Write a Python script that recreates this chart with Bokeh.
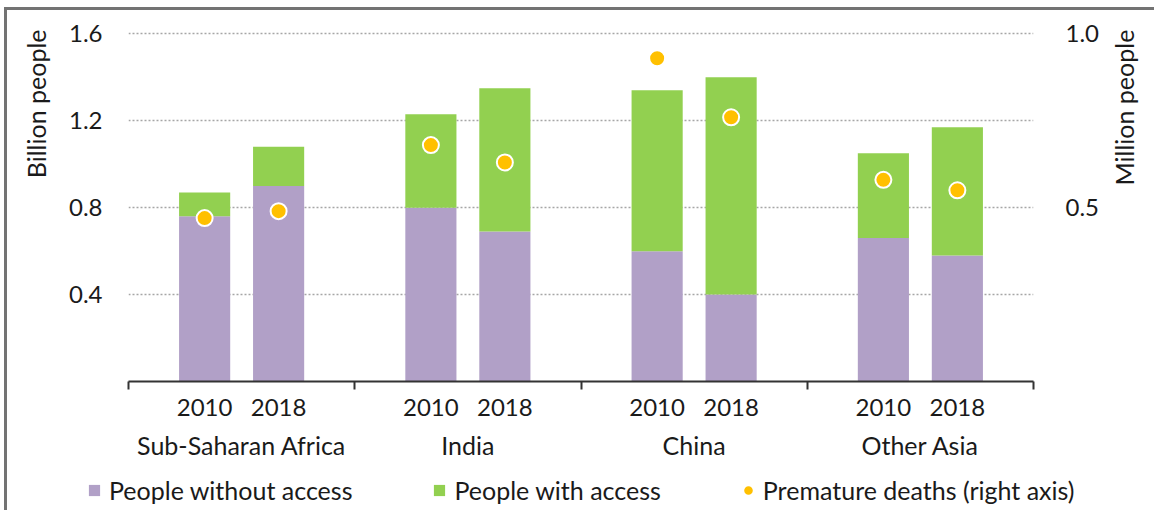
import math
from bokeh.plotting import figure
from bokeh.layouts import row, column
from bokeh.models import (Range1d, LinearAxis, FixedTicker, Legend, LegendItem, Title, Label,
                          ColumnDataSource, Grid, PrintfTickFormatter, InlineStyleSheet)
from bokeh.embed import file_html
from bokeh.resources import INLINE

# ---------------- data ----------------
regions = ["Sub-Saharan Africa", "India", "China", "Other Asia"]
years = ["2010", "2018"]
without_access_2010 = [0.76, 0.80, 0.60, 0.66]
without_access_2018 = [0.90, 0.69, 0.40, 0.58]
with_access_2010 = [0.11, 0.43, 0.74, 0.39]
with_access_2018 = [0.18, 0.66, 1.00, 0.59]
deaths_2010 = [0.47, 0.68, 0.93, 0.58]
deaths_2018 = [0.49, 0.63, 0.76, 0.55]
left_ticks = [0.4, 0.8, 1.2, 1.6]
right_ticks = [0.5, 1.0]
series_labels = ["People without access", "People with access", "Premature deaths (right axis)"]
left_label = "Billion people"
right_label = "Million people"

# ---------------- styles ----------------
FONT = "Lato"
TXT = "#1a1a1a"
PURPLE = "#B1A0C7"
GREEN = "#92D050"
ORANGE = "#FFC000"
FRAME = "#737373"
YEAR_OFFSET = 0.1635
BAR_W = 0.226
Y_END = 1.62
Y2_END = Y_END / 1.6
MAIN_W, MAIN_H = 1110, 468
STRIP_W = 1154 - MAIN_W
LEG_H = 510 - MAIN_H


def frame_css(left=False, top=False, left_px=4, top_px=7):
    parts = []
    if left:
        parts.append(f"border-left: 3px solid {FRAME};")
    if top:
        parts.append(f"border-top: 3px solid {FRAME};")
    css = (":host { position: relative; } :host::after { content: ''; position: absolute; "
           f"left: {left_px if left else 0}px; top: {top_px if top else 0}px; right: 0; bottom: 0; "
           + " ".join(parts) + " pointer-events: none; }")
    return [InlineStyleSheet(css=css)]


xs, wo, wa_top, dd = [], [], [], []
for i in range(len(regions)):
    for j, (w0, w1, d) in enumerate([(without_access_2010[i], with_access_2010[i], deaths_2010[i]),
                                     (without_access_2018[i], with_access_2018[i], deaths_2018[i])]):
        xs.append(i + 0.5 + (-YEAR_OFFSET if j == 0 else YEAR_OFFSET))
        wo.append(w0)
        wa_top.append(w0 + w1)
        dd.append(d)

src = ColumnDataSource(dict(x=xs, without=wo, total=wa_top, deaths=dd))

# ---------------- main chart ----------------
p = figure(width=MAIN_W, height=MAIN_H, x_range=Range1d(0, len(regions)), y_range=Range1d(0, Y_END),
           output_backend="svg", toolbar_location=None,
           x_axis_location=None, y_axis_location=None,
           min_border_left=128, min_border_right=MAIN_W - 1033, min_border_top=29,
           min_border_bottom=MAIN_H - 381)
p.grid.visible = False
p.outline_line_color = None
p.extra_y_ranges = {"deaths": Range1d(0, Y2_END)}
p.border_fill_color = "white"
p.frame_align = False

grid = Grid(dimension=1, ticker=FixedTicker(ticks=left_ticks), grid_line_color="#a6a6a6",
            grid_line_dash="2 2", grid_line_width=1.5)
p.add_layout(grid)

bar_style = dict(width=BAR_W, source=src, line_color=None)
r_wo = p.vbar(x="x", top="without", bottom=0, fill_color=PURPLE, **bar_style)
r_wa = p.vbar(x="x", top="total", bottom="without", fill_color=GREEN, **bar_style)
dot_style = dict(size=16, fill_color=ORANGE, line_color="white", line_width=2)
r_d = p.scatter(x="x", y="deaths", source=src, y_range_name="deaths", **dot_style)


def style_text_axis(ax, size="24px"):
    ax.major_label_text_font = FONT
    ax.major_label_text_font_size = size
    ax.major_label_text_color = TXT


left = LinearAxis(ticker=FixedTicker(ticks=left_ticks), formatter=PrintfTickFormatter(format="%.1f"),
                  axis_line_color=None, major_tick_line_color=None,
                  minor_tick_line_color=None, major_tick_out=0, major_label_standoff=26)
style_text_axis(left)
p.add_layout(left, "left")
p.add_layout(Title(text=left_label, align="right", text_font=FONT, text_font_size="25px",
                   text_font_style="normal", text_color=TXT, standoff=29), "left")

right = LinearAxis(y_range_name="deaths", ticker=FixedTicker(ticks=right_ticks),
                   formatter=PrintfTickFormatter(format="%.1f"),
                   axis_line_color=None, major_tick_line_color=None,
                   minor_tick_line_color=None, major_tick_out=0, major_label_standoff=32)
style_text_axis(right)
p.add_layout(right, "right")

year_overrides = {x: years[k % 2] for k, x in enumerate(xs)}
xaxis1 = LinearAxis(ticker=FixedTicker(ticks=xs, minor_ticks=list(range(len(regions) + 1))),
                    major_label_overrides=year_overrides,
                    axis_line_color="#333333", axis_line_width=2,
                    major_tick_line_color=None, major_tick_out=0, major_tick_in=0,
                    minor_tick_line_color="#333333", minor_tick_line_width=2,
                    minor_tick_out=8, minor_tick_in=0, major_label_standoff=9)
style_text_axis(xaxis1)
p.add_layout(xaxis1, "below")

group_ticks = [i + 0.5 for i in range(len(regions))]
xaxis2 = LinearAxis(ticker=FixedTicker(ticks=group_ticks),
                    major_label_overrides={g: r for g, r in zip(group_ticks, regions)},
                    axis_line_color=None, major_tick_line_color=None, minor_tick_line_color=None,
                    major_tick_out=0, major_tick_in=0, major_label_standoff=11)
style_text_axis(xaxis2, "25px")
p.add_layout(xaxis2, "below")
p.stylesheets = frame_css(left=True, top=True)

# ---------------- right strip (right axis title) ----------------
s = figure(width=STRIP_W, height=510, x_range=Range1d(0, 1), y_range=Range1d(0, 1),
           output_backend="svg", toolbar_location=None, x_axis_location=None, y_axis_location=None,
           min_border=0)
s.grid.visible = False
s.outline_line_color = None
s.frame_align = False
s.add_layout(Label(text=right_label, x=1123 - MAIN_W, y=510 - 185, x_units="screen", y_units="screen",
                   angle=math.pi / 2, text_align="left", text_baseline="middle",
                   text_font=FONT, text_font_size="25px", text_color=TXT))
s.stylesheets = frame_css(top=True)

# ---------------- legend strip ----------------
# same series as the chart, drawn with ranges that keep the marks out of view; only the legend shows
lg = figure(width=MAIN_W, height=LEG_H, x_range=Range1d(0, len(regions)), y_range=Range1d(10, 11),
            output_backend="svg", toolbar_location=None, x_axis_location=None, y_axis_location=None,
            min_border=0)
lg.grid.visible = False
lg.outline_line_color = None
lg.frame_align = False
l_wo = lg.vbar(x="x", top="without", bottom=0, fill_color=PURPLE, **bar_style)
l_wa = lg.vbar(x="x", top="total", bottom="without", fill_color=GREEN, **bar_style)
l_d = lg.scatter(x="x", y="deaths", source=src, size=16, fill_color=ORANGE,
                 line_color=ORANGE, line_width=3)
legend = Legend(items=[LegendItem(label=series_labels[0], renderers=[l_wo]),
                       LegendItem(label=series_labels[1], renderers=[l_wa]),
                       LegendItem(label=series_labels[2], renderers=[l_d])],
                orientation="horizontal", location=(87, 5), border_line_color=None,
                background_fill_alpha=0, label_text_font=FONT, label_text_font_size="25px",
                label_text_color=TXT, glyph_width=14, glyph_height=14, spacing=80,
                label_standoff=8, padding=0, margin=0)
lg.add_layout(legend)
lg.stylesheets = frame_css(left=True)

layout = row(column(p, lg, spacing=0), s, spacing=0)
open("out.html", "w").write(file_html(layout, INLINE))
